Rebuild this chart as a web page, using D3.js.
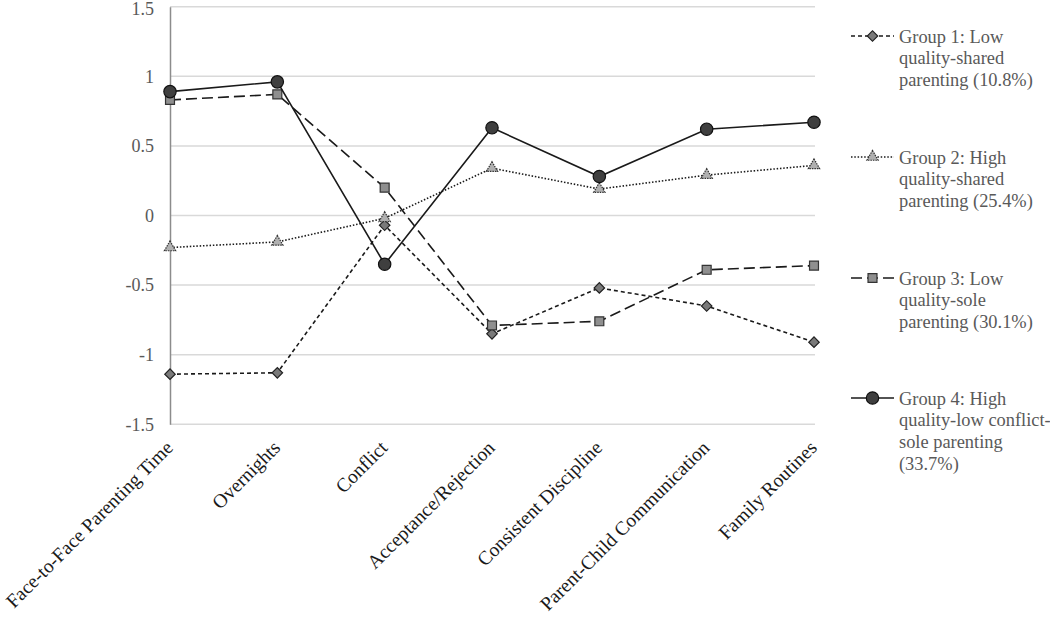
<!DOCTYPE html>
<html>
<head>
<meta charset="utf-8">
<script src="https://cdn.jsdelivr.net/npm/d3@7"></script>
<style>
  body { margin: 0; background: #fff; }
  svg { font-family: "Liberation Serif", "Times New Roman", serif; }
</style>
</head>
<body>
<div class="chart"></div>
<script>
const categories = ['Face-to-Face Parenting Time', 'Overnights', 'Conflict', 'Acceptance/Rejection',
    'Consistent Discipline', 'Parent-Child Communication', 'Family Routines'];
const yTicks = [-1.5, -1, -0.5, 0, 0.5, 1, 1.5];

const group1 = [-1.14, -1.13, -0.07, -0.85, -0.52, -0.65, -0.91];
const group2 = [-0.23, -0.19, -0.02, 0.34, 0.19, 0.29, 0.36];
const group3 = [0.83, 0.87, 0.20, -0.79, -0.76, -0.39, -0.36];
const group4 = [0.89, 0.96, -0.35, 0.63, 0.28, 0.62, 0.67];

const legendLines = [
    ['Group 1: Low', 'quality-shared', 'parenting (10.8%)'],
    ['Group 2: High', 'quality-shared', 'parenting (25.4%)'],
    ['Group 3: Low', 'quality-sole', 'parenting (30.1%)'],
    ['Group 4: High', 'quality-low conflict-', 'sole parenting', '(33.7%)']
];

// diamond = square turned 45deg
const series = [
    { values: group1, dash: '4,3', marker: d3.symbolSquare, rot: 45, size: 55, fill: '#7a7a7a', stroke: '#222', mdash: null },
    { values: group2, dash: '1.5,1.8', marker: d3.symbolTriangle, rot: 0, size: 55, fill: '#b0b0b0', stroke: '#333', mdash: '1.5,1' },
    { values: group3, dash: '11,5', marker: d3.symbolSquare, rot: 0, size: 80, fill: '#8f8f8f', stroke: '#333', mdash: null },
    { values: group4, dash: null, marker: d3.symbolCircle, rot: 0, size: 120, fill: '#3f3f3f', stroke: '#111', mdash: null }
];

const width = 1050, height = 617;
const svg = d3.select('.chart').append('svg')
    .attr('width', width)
    .attr('height', height);

const x = d3.scalePoint().domain(categories).range([170, 814]);
const y = d3.scaleLinear().domain([-1.5, 1.5]).range([424.3, 6.7]);

// grid
svg.append('g').selectAll('line')
    .data(yTicks)
    .enter().append('line')
    .attr('x1', 170).attr('x2', 815)
    .attr('y1', d => y(d)).attr('y2', d => y(d))
    .attr('stroke', '#d9d9d9')
    .attr('stroke-width', 1.5);

// y axis (hyphen minus like the original)
const yAxis = svg.append('g')
    .attr('transform', 'translate(170,0)')
    .call(d3.axisLeft(y).tickValues(yTicks).tickSize(0).tickPadding(16)
        .tickFormat(d => String(d)));
yAxis.select('.domain').attr('stroke', '#8c8c8c').attr('stroke-width', 1.5);
yAxis.selectAll('text')
    .attr('fill', '#595959')
    .style('font-size', '18px')
    .style('font-family', '"Liberation Serif", serif');
// keep the top label inside the page
yAxis.selectAll('.tick').filter(d => d === 1.5).select('text').attr('y', 2);

// x labels
svg.append('g').selectAll('text')
    .data(categories)
    .enter().append('text')
    .attr('transform', d => 'translate(' + (x(d) + 4) + ',449) rotate(-45)')
    .attr('text-anchor', 'end')
    .attr('fill', '#1a1a1a')
    .style('font-size', '19.5px')
    .text(d => d);

const line = d3.line()
    .x((d, i) => x(categories[i]))
    .y(d => y(d));

series.forEach(s => {
    const g = svg.append('g');
    g.append('path')
        .datum(s.values)
        .attr('d', line)
        .attr('fill', 'none')
        .attr('stroke', '#1a1a1a')
        .attr('stroke-width', 1.6)
        .attr('stroke-dasharray', s.dash);
    g.selectAll('path.m')
        .data(s.values)
        .enter().append('path')
        .attr('class', 'm')
        .attr('d', d3.symbol().type(s.marker).size(s.size))
        .attr('transform', (d, i) => 'translate(' + x(categories[i]) + ',' + y(d) + ') rotate(' + s.rot + ')')
        .attr('fill', s.fill)
        .attr('stroke', s.stroke)
        .attr('stroke-width', 1.2)
        .attr('stroke-dasharray', s.mdash);
});

// legend
const legendY = [36, 157, 278, 398];
series.forEach((s, k) => {
    const g = svg.append('g').attr('transform', 'translate(0,' + legendY[k] + ')');
    g.append('line')
        .attr('x1', 851).attr('x2', 894)
        .attr('y1', 0).attr('y2', 0)
        .attr('stroke', '#1a1a1a')
        .attr('stroke-width', 1.6)
        .attr('stroke-dasharray', s.dash);
    g.append('path')
        .attr('d', d3.symbol().type(s.marker).size(s.size))
        .attr('transform', 'translate(872.5,0) rotate(' + s.rot + ')')
        .attr('fill', s.fill)
        .attr('stroke', s.stroke)
        .attr('stroke-width', 1.2)
        .attr('stroke-dasharray', s.mdash);
    g.selectAll('text')
        .data(legendLines[k])
        .enter().append('text')
        .attr('x', 899)
        .attr('y', (d, i) => 6.5 + i * 21.7)
        .attr('fill', '#595959')
        .style('font-size', '18.4px')
        .text(d => d);
});
</script>
</body>
</html>
